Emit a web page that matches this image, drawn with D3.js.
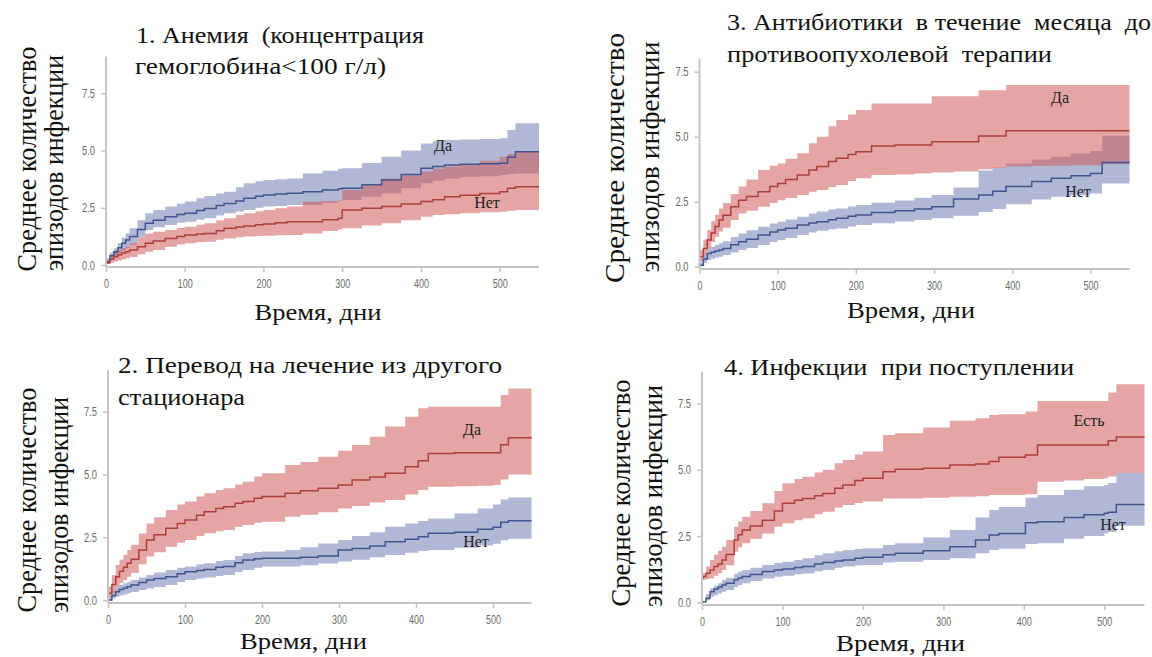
<!DOCTYPE html>
<html>
<head>
<meta charset="utf-8">
<script src="https://cdn.jsdelivr.net/npm/d3@7"></script>
<style>
  body { margin: 0; background: #fff; }
  svg { display: block; }
  text { white-space: pre; }
</style>
</head>
<body>
<svg id="chart" width="1152" height="657"></svg>
<script>
// ---------------- Data: mean cumulative number of infection episodes ----------------
// Panel 1 — anaemia (haemoglobin < 100 g/l)
const days1 = [0,5,10,15,20,25,30,40,50,60,75,90,100,115,125,140,150,165,175,190,200,215,230,250,275,295,300,325,350,375,400,415,430,450,475,500,510,520,550];
const p1YesMean = [0.15,0.4,0.58,0.75,0.95,1.09,1.25,1.55,1.82,1.95,2.11,2.2,2.26,2.38,2.47,2.6,2.69,2.8,2.91,3.0,3.06,3.1,3.13,3.2,3.28,3.33,3.35,3.5,3.71,3.95,4.22,4.3,4.37,4.4,4.42,4.44,4.7,4.95,4.95];
const p1YesHi   = [0.3,0.55,0.73,0.95,1.2,1.38,1.6,1.95,2.26,2.4,2.55,2.68,2.77,2.92,3.01,3.12,3.2,3.4,3.57,3.66,3.71,3.75,3.78,4.0,4.12,4.2,4.22,4.45,4.73,5.0,5.31,5.4,5.46,5.48,5.5,5.53,5.9,6.19,6.19];
const p1YesLo   = [0.05,0.22,0.36,0.5,0.62,0.73,0.88,1.2,1.53,1.65,1.75,1.84,1.89,1.98,2.04,2.16,2.26,2.34,2.4,2.5,2.55,2.58,2.62,2.62,2.72,2.82,2.84,2.98,3.13,3.35,3.57,3.68,3.78,3.84,3.88,3.93,3.97,4.0,4.0];
const p1NoMean  = [0.1,0.25,0.36,0.45,0.52,0.58,0.66,0.8,0.95,1.05,1.16,1.25,1.31,1.35,1.38,1.5,1.6,1.66,1.7,1.76,1.79,1.84,1.89,1.89,1.98,2.04,2.4,2.48,2.55,2.66,2.77,2.85,2.98,3.05,3.12,3.2,3.35,3.42,3.42];
const p1NoHi    = [0.2,0.4,0.58,0.66,0.74,0.8,0.95,1.2,1.38,1.45,1.53,1.62,1.67,1.76,1.82,1.95,2.04,2.18,2.26,2.35,2.4,2.48,2.55,2.77,2.8,2.84,3.28,3.5,3.78,3.92,4.08,4.2,4.3,4.37,4.55,4.73,4.85,4.95,4.95];
const p1NoLo    = [0.05,0.1,0.15,0.2,0.25,0.29,0.35,0.47,0.58,0.66,0.8,0.9,0.95,1.0,1.02,1.1,1.16,1.21,1.24,1.27,1.28,1.3,1.31,1.38,1.48,1.55,1.6,1.72,1.82,1.95,2.11,2.18,2.22,2.26,2.3,2.33,2.37,2.4,2.4];

// Panel 2 — transfer from another hospital
const days2 = [0,5,10,15,20,25,30,40,50,60,75,90,100,115,125,140,150,165,175,190,200,230,250,273,299,317,340,360,386,403,416,450,480,500,510,520,550];
const p2YesMean = [0.27,0.62,0.93,1.15,1.3,1.46,1.62,1.99,2.39,2.6,2.86,3.05,3.19,3.38,3.52,3.65,3.72,3.85,3.92,4.05,4.12,4.25,4.35,4.45,4.58,4.78,4.9,5.05,5.31,5.55,5.84,5.87,5.87,5.87,6.19,6.46,6.46];
const p2YesHi   = [0.53,1.0,1.39,1.6,1.8,1.99,2.2,2.65,3.05,3.3,3.59,3.8,3.92,4.12,4.25,4.38,4.45,4.6,4.71,4.92,5.05,5.38,5.5,5.71,5.95,6.18,6.5,6.91,7.3,7.64,7.7,7.7,7.7,7.7,8.17,8.43,8.43];
const p2YesLo   = [0.07,0.3,0.53,0.68,0.8,0.93,1.08,1.42,1.73,1.9,2.12,2.28,2.39,2.55,2.66,2.74,2.79,2.92,2.99,3.08,3.12,3.32,3.4,3.5,3.65,3.75,3.88,3.98,4.2,4.38,4.51,4.53,4.55,4.58,4.8,5.0,5.0];
const p2NoMean  = [0.0,0.18,0.33,0.42,0.48,0.53,0.6,0.7,0.8,0.86,0.93,1.05,1.13,1.18,1.22,1.3,1.33,1.48,1.59,1.64,1.66,1.66,1.7,1.75,1.99,2.05,2.15,2.32,2.42,2.52,2.66,2.7,2.82,2.9,3.1,3.16,3.16];
const p2NoHi    = [0.05,0.35,0.53,0.6,0.67,0.73,0.8,0.9,1.0,1.1,1.2,1.28,1.33,1.42,1.46,1.55,1.59,1.75,1.86,1.91,1.93,1.99,2.1,2.25,2.39,2.55,2.7,2.92,3.05,3.15,3.25,3.45,3.65,3.8,4.0,4.08,4.08];
const p2NoLo    = [0.0,0.06,0.13,0.18,0.22,0.27,0.32,0.4,0.46,0.52,0.6,0.72,0.8,0.86,0.9,0.96,1.0,1.12,1.2,1.28,1.33,1.33,1.38,1.45,1.53,1.6,1.7,1.79,1.88,1.95,1.99,2.08,2.17,2.24,2.38,2.44,2.44];

// Panel 3 — antibiotics within a month before anticancer therapy
const days3 = [0,5,10,15,20,25,30,40,50,60,75,90,100,110,125,140,150,165,175,190,200,220,250,275,297,325,357,375,392,425,450,475,500,515,550];
const p3YesMean = [0.38,0.7,1.03,1.3,1.55,1.8,1.98,2.31,2.56,2.7,2.88,3.08,3.2,3.35,3.53,3.72,3.85,4.05,4.17,4.32,4.42,4.64,4.68,4.68,4.81,4.81,5.03,5.03,5.23,5.23,5.23,5.23,5.23,5.23,5.23];
const p3YesHi   = [0.64,1.05,1.41,1.75,2.0,2.24,2.45,2.8,3.08,3.35,3.72,3.88,3.97,4.15,4.36,4.75,5.0,5.4,5.64,5.85,6.03,6.28,6.28,6.28,6.56,6.56,6.79,6.79,6.99,6.99,6.99,6.99,6.99,6.99,6.99];
const p3YesLo   = [0.19,0.45,0.7,0.95,1.15,1.35,1.5,1.8,2.05,2.15,2.31,2.45,2.56,2.64,2.76,2.88,2.95,3.06,3.14,3.3,3.4,3.53,3.55,3.58,3.62,3.66,3.75,3.8,3.85,3.87,3.88,3.9,3.9,3.95,3.95];
const p3NoMean  = [0.06,0.3,0.51,0.56,0.6,0.64,0.7,0.84,0.96,1.06,1.22,1.33,1.41,1.48,1.6,1.68,1.73,1.81,1.86,1.94,1.99,2.08,2.15,2.22,2.31,2.6,2.76,2.9,3.08,3.28,3.4,3.5,3.58,4.01,4.01];
const p3NoHi    = [0.15,0.45,0.7,0.77,0.84,0.9,0.98,1.14,1.28,1.4,1.54,1.66,1.73,1.82,1.92,2.05,2.12,2.2,2.24,2.32,2.37,2.46,2.55,2.65,2.76,3.05,3.7,3.82,3.97,4.12,4.23,4.35,4.45,5.04,5.04];
const p3NoLo    = [0.02,0.15,0.26,0.31,0.35,0.38,0.45,0.55,0.64,0.72,0.83,0.95,1.03,1.1,1.22,1.32,1.38,1.44,1.47,1.55,1.6,1.67,1.74,1.8,1.86,1.96,2.1,2.22,2.4,2.58,2.69,2.75,2.82,3.2,3.2];

// Panel 4 — infection on admission
const days4 = [0,1,5,10,15,20,25,30,40,45,50,60,75,90,100,115,125,140,150,165,175,190,200,225,240,275,308,340,357,369,402,417,450,475,500,505,515,550];
const p4YesMean = [0.9,0.97,1.1,1.22,1.35,1.45,1.6,1.8,2.35,2.55,2.73,2.88,3.1,3.45,3.74,3.85,3.92,4.02,4.11,4.3,4.43,4.6,4.68,4.93,5.02,5.06,5.18,5.22,5.31,5.47,5.56,5.94,5.94,5.94,5.94,6.1,6.24,6.24];
const p4YesHi   = [1.05,1.1,1.35,1.6,1.8,1.95,2.1,2.35,2.85,3.05,3.23,3.45,3.74,4.2,4.49,4.65,4.74,4.9,5.0,5.25,5.37,5.58,5.69,6.31,6.38,6.6,6.85,6.95,7.07,7.1,7.2,7.6,7.6,7.6,7.6,7.92,8.23,8.23];
const p4YesLo   = [0.8,0.85,0.88,0.9,1.0,1.1,1.22,1.4,1.91,2.08,2.23,2.4,2.6,2.85,2.98,3.1,3.17,3.32,3.42,3.58,3.67,3.75,3.8,3.92,3.92,3.95,3.98,4.0,4.05,4.05,4.08,4.55,4.6,4.65,4.68,4.75,4.88,4.88];
const p4NoMean  = [0.0,0.02,0.15,0.4,0.5,0.58,0.65,0.72,0.85,0.92,0.97,1.05,1.16,1.22,1.26,1.31,1.35,1.45,1.5,1.56,1.6,1.66,1.7,1.79,1.85,1.95,2.1,2.35,2.54,2.6,3.0,3.04,3.2,3.3,3.36,3.4,3.69,3.69];
const p4NoHi    = [0.03,0.05,0.3,0.53,0.62,0.72,0.84,0.93,1.08,1.15,1.22,1.3,1.41,1.48,1.53,1.6,1.66,1.78,1.85,1.93,1.97,2.01,2.04,2.16,2.23,2.45,2.73,3.2,3.48,3.6,3.95,4.05,4.25,4.38,4.43,4.5,4.88,4.88];
const p4NoLo    = [0.0,0.0,0.08,0.21,0.27,0.33,0.4,0.46,0.58,0.65,0.72,0.8,0.9,0.96,1.0,1.06,1.09,1.17,1.22,1.3,1.35,1.39,1.41,1.5,1.53,1.6,1.66,1.85,1.97,2.02,2.2,2.23,2.4,2.5,2.6,2.65,2.89,2.89];

// Axis ticks and texts
const xTicks = [0, 100, 200, 300, 400, 500];
const yTicks = [0, 2.5, 5, 7.5];
const xTitle = "Время, дни";
const yTitle1 = "Среднее количество";
const yTitle2 = "эпизодов инфекции";

// ---------------- Styling ----------------
const SERIF = "'Liberation Serif','Times New Roman','DejaVu Serif','Noto Serif',serif";
const SANS = "'Liberation Sans',Arial,sans-serif";
const BLUE = { line: "#40548f", band: "#6f7eb3" };
const RED  = { line: "#ad3f3a", band: "#d05b5b" };
const BAND_OPACITY = 0.55;
const AXIS_COLOR = "#c4c4c4";
const TICK_TEXT = "#6a6a6a";

// ---------------- Panel layout ----------------
const panels = [
  {
    days: days1,
    groups: [
      { mean: p1YesMean, lo: p1YesLo, hi: p1YesHi, c: BLUE },
      { mean: p1NoMean,  lo: p1NoLo,  hi: p1NoHi,  c: RED }
    ],
    x0: 106, x1: 539, y0: 265, ppu: 22.9, yMax: 9.1, axisY: 267,
    title: [
      { s: "1. Анемия  (концентрация", x: 136, y: 43, len: 288 },
      { s: "гемоглобина<100 г/л)", x: 135, y: 74, len: 251 }
    ],
    yt: [{ x: 36, cy: 159, len: 225 }, { x: 63, cy: 163, len: 216 }],
    xt: { cx: 318, y: 320, len: 127 },
    labels: [
      { s: "Да", x: 443, y: 151 },
      { s: "Нет", x: 487, y: 208 }
    ]
  },
  {
    days: days3,
    groups: [
      { mean: p3NoMean,  lo: p3NoLo,  hi: p3NoHi,  c: BLUE },
      { mean: p3YesMean, lo: p3YesLo, hi: p3YesHi, c: RED }
    ],
    x0: 699.5, x1: 1129.5, y0: 266.7, ppu: 26.0, yMax: 8.0, axisY: 269,
    title: [
      { s: "3. Антибиотики  в течение  месяца  до", x: 727, y: 30, len: 424 },
      { s: "противоопухолевой  терапии", x: 727, y: 62, len: 325 }
    ],
    yt: [{ x: 624, cy: 158, len: 250 }, { x: 659, cy: 157, len: 231 }],
    xt: { cx: 911, y: 318, len: 128 },
    labels: [
      { s: "Да", x: 1060, y: 103 },
      { s: "Нет", x: 1078, y: 197 }
    ]
  },
  {
    days: days2,
    groups: [
      { mean: p2NoMean,  lo: p2NoLo,  hi: p2NoHi,  c: BLUE },
      { mean: p2YesMean, lo: p2YesLo, hi: p2YesHi, c: RED }
    ],
    x0: 108, x1: 531.5, y0: 600, ppu: 25.1, yMax: 9.15, axisY: 603,
    title: [
      { s: "2. Перевод на лечение из другого", x: 118, y: 373, len: 384 },
      { s: "стационара", x: 118, y: 405, len: 127 }
    ],
    yt: [{ x: 36, cy: 500, len: 225 }, { x: 68, cy: 505, len: 216 }],
    xt: { cx: 303.5, y: 649, len: 127 },
    labels: [
      { s: "Да", x: 472, y: 435 },
      { s: "Нет", x: 476, y: 547 }
    ]
  },
  {
    days: days4,
    groups: [
      { mean: p4NoMean,  lo: p4NoLo,  hi: p4NoHi,  c: BLUE },
      { mean: p4YesMean, lo: p4YesLo, hi: p4YesHi, c: RED }
    ],
    x0: 702, x1: 1144.5, y0: 602.3, ppu: 26.5, yMax: 8.7, axisY: 605,
    title: [
      { s: "4. Инфекции  при поступлении", x: 724, y: 375, len: 350 }
    ],
    yt: [{ x: 630, cy: 493, len: 227 }, { x: 662, cy: 496, len: 222 }],
    xt: { cx: 900.5, y: 651, len: 129 },
    labels: [
      { s: "Есть", x: 1089, y: 426 },
      { s: "Нет", x: 1113, y: 530 }
    ]
  }
];

const svg = d3.select("#chart");

function tickTextLength(s) {
  let w = 0;
  for (const ch of s) w += (ch === ".") ? 3 : 5;
  return w;
}

panels.forEach(p => {
  const g = svg.append("g");
  const x = d3.scaleLinear().domain([0, 550]).range([p.x0, p.x1]);
  const y = d3.scaleLinear().domain([0, p.yMax]).range([p.y0, p.y0 - p.yMax * p.ppu]);

  // Confidence bands, then mean step curves
  const rowsOf = gr => p.days.map((t, i) => ({ t, m: gr.mean[i], lo: gr.lo[i], hi: gr.hi[i] }));
  const area = d3.area().curve(d3.curveStepAfter)
    .x(d => x(d.t)).y0(d => y(d.lo)).y1(d => y(d.hi));
  const line = d3.line().curve(d3.curveStepAfter)
    .x(d => x(d.t)).y(d => y(d.m));

  p.groups.forEach(gr => {
    g.append("path").datum(rowsOf(gr))
      .attr("d", area)
      .attr("fill", gr.c.band)
      .attr("fill-opacity", BAND_OPACITY);
  });
  p.groups.forEach(gr => {
    g.append("path").datum(rowsOf(gr))
      .attr("d", line)
      .attr("fill", "none")
      .attr("stroke", gr.c.line)
      .attr("stroke-width", 1.5);
  });

  // Axes
  const xa = g.append("g")
    .attr("transform", `translate(0,${p.axisY})`)
    .call(d3.axisBottom(x).tickValues(xTicks).tickSize(5).tickSizeOuter(0).tickPadding(7).tickFormat(d3.format("d")));
  const ya = g.append("g")
    .attr("transform", `translate(${p.x0},0)`)
    .call(d3.axisLeft(y).tickValues(yTicks).tickSize(5).tickSizeOuter(0).tickPadding(6).tickFormat(d3.format(".1f")));
  [xa, ya].forEach(a => {
    a.select(".domain").remove();
    a.selectAll(".tick line").attr("stroke", AXIS_COLOR).attr("stroke-width", 1.5);
    a.selectAll(".tick text")
      .attr("fill", TICK_TEXT)
      .style("font-family", SANS)
      .style("font-size", "13px")
      .attr("lengthAdjust", "spacingAndGlyphs")
      .attr("textLength", function () { return tickTextLength(this.textContent); });
  });
  g.append("line")
    .attr("x1", x.range()[0]).attr("x2", x.range()[1])
    .attr("y1", p.axisY).attr("y2", p.axisY)
    .attr("stroke", AXIS_COLOR).attr("stroke-width", 2);
  g.append("line")
    .attr("x1", p.x0).attr("x2", p.x0)
    .attr("y1", p.axisY).attr("y2", y.range()[1])
    .attr("stroke", AXIS_COLOR).attr("stroke-width", 2);

  // Group labels
  p.labels.forEach(l => {
    g.append("text")
      .attr("x", l.x).attr("y", l.y)
      .attr("text-anchor", "middle")
      .style("font-family", SERIF)
      .style("font-size", "16px")
      .attr("fill", "#222")
      .text(l.s);
  });

  // Panel title
  p.title.forEach(t => {
    g.append("text")
      .attr("x", t.x).attr("y", t.y)
      .style("font-family", SERIF)
      .style("font-size", "24px")
      .attr("fill", "#111")
      .attr("lengthAdjust", "spacingAndGlyphs")
      .attr("textLength", t.len)
      .text(t.s);
  });

  // Y-axis title (two lines, rotated)
  [yTitle1, yTitle2].forEach((s, i) => {
    const yt = p.yt[i];
    g.append("text")
      .attr("transform", `translate(${yt.x},${yt.cy}) rotate(-90)`)
      .attr("text-anchor", "middle")
      .style("font-family", SERIF)
      .style("font-size", "28px")
      .attr("fill", "#111")
      .attr("lengthAdjust", "spacingAndGlyphs")
      .attr("textLength", yt.len)
      .text(s);
  });

  // X-axis title
  g.append("text")
    .attr("x", p.xt.cx).attr("y", p.xt.y)
    .attr("text-anchor", "middle")
    .style("font-family", SERIF)
    .style("font-size", "24px")
    .attr("fill", "#111")
    .attr("lengthAdjust", "spacingAndGlyphs")
    .attr("textLength", p.xt.len)
    .text(xTitle);
});
</script>
</body>
</html>
